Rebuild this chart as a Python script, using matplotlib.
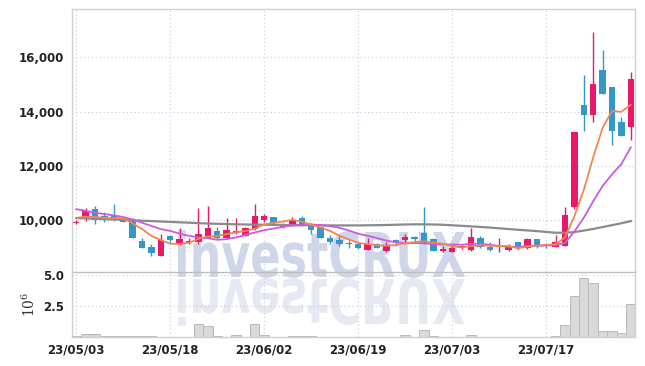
import matplotlib
matplotlib.use("Agg")
import matplotlib.pyplot as plt
import numpy as np
import pandas as pd
from matplotlib import font_manager as fm
from matplotlib.textpath import TextPath
from matplotlib.patches import PathPatch
from matplotlib.transforms import Affine2D
from matplotlib.ticker import FuncFormatter

# --- data ---
dates = pd.bdate_range('2023-05-03', '2023-07-28', freq='C',
                       holidays=['2023-05-05', '2023-05-29', '2023-06-06'])

opens = [9880, 10030, 10400, 10150, 10130, 10060, 10010, 9225, 9000, 8690,
         9420, 9130, 9180, 9180, 9350, 9590, 9330, 9510, 9420, 9670,
         10000, 10110, 9740, 9790, 10060, 9860, 9740, 9350, 9270, 9150,
         9100, 8905, 9125, 8860, 9250, 9280, 9380, 9520, 9300, 8860,
         8830, 8960, 8905, 9350, 9010, 8880, 8880, 9180, 8955, 9300,
         9125, 9000, 9050, 10490, 14230, 13890, 15530, 14900, 13610, 13440]
highs = [9990, 10450, 10500, 10290, 10580, 10100, 10060, 9350, 9130, 9470,
         9430, 9690, 9330, 10430, 10530, 9740, 10090, 10090, 9750, 10580,
         10230, 10120, 9900, 10120, 10140, 9880, 9760, 9450, 9400, 9270,
         9150, 9330, 9150, 9180, 9300, 9490, 9400, 10480, 9320, 9050,
         9080, 9070, 9720, 9420, 9180, 9330, 9100, 9190, 9350, 9310,
         9150, 9450, 10470, 13260, 15340, 16940, 16270, 14910, 13790, 15460]
lows = [9840, 9960, 9850, 9920, 9960, 9910, 9320, 8950, 8690, 8680,
        9200, 9080, 9100, 9130, 9330, 9300, 9300, 9480, 9400, 9630,
        9940, 9850, 9720, 9770, 9770, 9500, 9320, 9130, 9030, 8980,
        8930, 8890, 8960, 8810, 9030, 9100, 9240, 9120, 8850, 8810,
        8810, 8920, 8860, 8970, 8860, 8810, 8860, 8880, 8940, 8960,
        8960, 8990, 9040, 10420, 13300, 13620, 14640, 12780, 13090, 12950]
closes = [9920, 10330, 10000, 10070, 10010, 9940, 9350, 8980, 8780, 9270,
          9250, 9300, 9220, 9470, 9720, 9350, 9620, 9590, 9690, 10150,
          10150, 9890, 9840, 10010, 9790, 9640, 9350, 9200, 9130, 9110,
          8980, 9125, 8980, 9080, 9180, 9380, 9310, 9130, 8860, 8940,
          8980, 9030, 9370, 9000, 8880, 8905, 9030, 8980, 9300, 9030,
          9030, 9200, 10180, 13250, 13890, 15020, 14650, 13300, 13100, 15190]

# moving averages as drawn (orange 5d, violet 10d, gray long)
ma5 = [10080, 10120, 10110, 10080, 10066, 10070, 9874, 9670, 9412, 9264,
       9126, 9116, 9164, 9302, 9392, 9412, 9476, 9550, 9594, 9680,
       9840, 9894, 9944, 10008, 9936, 9834, 9726, 9598, 9422, 9286,
       9154, 9109, 9065, 9055, 9069, 9149, 9186, 9216, 9172, 9124,
       9044, 8988, 9036, 9064, 9052, 9037, 9037, 8959, 9019, 9049,
       9074, 9108, 9348, 10138, 11110, 12308, 13398, 14022, 13992, 14252]
ma10 = [10400, 10340, 10270, 10220, 10170, 10110, 10020, 9900, 9780, 9665,
        9598, 9495, 9417, 9357, 9328, 9269, 9296, 9357, 9448, 9536,
        9626, 9685, 9747, 9801, 9808, 9837, 9810, 9771, 9715, 9611,
        9494, 9418, 9332, 9239, 9178, 9152, 9148, 9141, 9114, 9097,
        9097, 9087, 9126, 9118, 9088, 9041, 9013, 8998, 9042, 9051,
        9056, 9073, 9154, 9579, 10080, 10691, 11253, 11685, 12065, 12681]
ma_long = [10070, 10060, 10045, 10030, 10020, 10005, 9990, 9975, 9960, 9945,
           9930, 9915, 9900, 9885, 9870, 9860, 9850, 9840, 9835, 9830,
           9825, 9820, 9815, 9810, 9810, 9805, 9805, 9800, 9800, 9800,
           9800, 9805, 9810, 9815, 9825, 9835, 9840, 9840, 9835, 9825,
           9805, 9785, 9765, 9745, 9720, 9695, 9665, 9640, 9615, 9590,
           9560, 9530, 9530, 9555, 9610, 9670, 9740, 9810, 9880, 9960]

volume = [0.15, 0.3, 0.3, 0.17, 0.17, 0.17, 0.17, 0.17, 0.17, 0.08,
          0.08, 0.08, 0.08, 1.09, 0.93, 0.12, 0.08, 0.2, 0.08, 1.09,
          0.2, 0.08, 0.08, 0.15, 0.15, 0.15, 0.08, 0.08, 0.08, 0.08,
          0.08, 0.08, 0.08, 0.08, 0.08, 0.18, 0.08, 0.63, 0.17, 0.08,
          0.08, 0.08, 0.18, 0.08, 0.08, 0.08, 0.08, 0.08, 0.08, 0.08,
          0.08, 0.16, 1.03, 3.33, 4.76, 4.37, 0.56, 0.56, 0.40, 2.67]

price_ticks = [10000, 12000, 14000, 16000]
vol_ticks = [2.5, 5.0]

# --- style ---
RED = '#e8196b'
BLUE = '#3497c9'
GRID = '#c6c9dc'
SPINE = '#cfcfcf'
names = {f.name for f in fm.fontManager.ttflist}
if 'Liberation Sans Narrow' in names:
    tick_font, tick_size = 'Liberation Sans Narrow', 10.8
else:
    tick_font, tick_size = 'DejaVu Sans', 8.5
plt.rcParams['mathtext.fontset'] = 'dejavuserif'

o = np.array(opens, float)
c = np.array(closes, float)
h = np.array(highs, float)
l = np.array(lows, float)
x = np.arange(len(c))
cols = np.where(c >= o, RED, BLUE)

fig = plt.figure(figsize=(6.45, 3.66), dpi=100)
ax = fig.add_axes([0.1116, 0.2568, 0.8729, 0.7178])
axv = fig.add_axes([0.1116, 0.0806, 0.8729, 0.1762], sharex=ax)
axv.set_facecolor('none')

# watermark "investCRUX" + faint reflection
tp = TextPath((0, 0), 'investCRUX', size=1,
              prop=fm.FontProperties(family='DejaVu Sans', weight='bold'))
ext = tp.get_extents()
W, H = 645.0, 366.0
sx = 287.0 / ext.width
sy = 47.0 / ext.y1
wm = Affine2D().translate(-ext.x0, 0).scale(sx / W, sy / H).translate(178 / W, 89 / H)
ax.add_patch(PathPatch(tp, transform=wm + fig.transFigure, facecolor='#d0d6ea',
                       edgecolor='none', clip_on=False, zorder=1))
wm2 = Affine2D().translate(-ext.x0, 0).scale(sx / W, -sy / H).translate(178 / W, 87 / H)
axv.add_patch(PathPatch(tp, transform=wm2 + fig.transFigure, facecolor='#e6e8f2',
                        edgecolor='none', clip_on=False, zorder=0.5))

# candles
ax.vlines(x, l, h, colors=cols, lw=1.0, zorder=2)
ax.bar(x, np.maximum(np.abs(c - o), 25), bottom=np.minimum(o, c), width=0.68,
       color=cols, linewidth=0, zorder=2.1)

# moving averages
ax.plot(x, ma_long, color='#8a8a8a', lw=1.6, zorder=3)
ax.plot(x, ma10, color='#c95ae6', lw=1.3, zorder=3.1)
ax.plot(x, ma5, color='#ef8650', lw=1.3, zorder=3.2)

# volume
axv.bar(x, volume, width=1.0, color='#d9d9d9', edgecolor='#b9b9b9', lw=0.7, zorder=2)

tick_pos = x[::10]
tick_lab = [d.strftime('%y/%m/%d') for d in dates[::10]]

ax.set_xlim(-0.45, 59.45)
ax.set_ylim(8081, 17775)
axv.set_ylim(0.1, 5.22)

ax.set_yticks(price_ticks)
ax.yaxis.set_major_formatter(FuncFormatter(lambda v, p: f'{v:,.0f}'))
axv.set_yticks(vol_ticks)
axv.yaxis.set_major_formatter(FuncFormatter(lambda v, p: f'{v:.1f}'))
axv.set_xticks(tick_pos)
axv.set_xticklabels(tick_lab)
ax.tick_params(axis='x', labelbottom=False)

for a in (ax, axv):
    a.grid(True, linestyle=(0, (1, 2.5)), color=GRID, lw=0.8)
    a.tick_params(length=0, labelcolor='#222222', labelsize=tick_size)
    a.tick_params(axis='y', pad=6)
    a.tick_params(axis='x', pad=5)
    for lab in a.get_xticklabels() + a.get_yticklabels():
        lab.set_fontfamily(tick_font)
        lab.set_fontweight('bold')
    for s in a.spines.values():
        s.set_color(SPINE)
        s.set_linewidth(1.0)
axv.spines['top'].set_visible(False)
ax.spines['bottom'].set_color('#bdbdbd')

axv.set_ylabel(r'$10^6$', fontsize=10, color='#333333', labelpad=3)

fig.savefig('out.png', dpi=100)
